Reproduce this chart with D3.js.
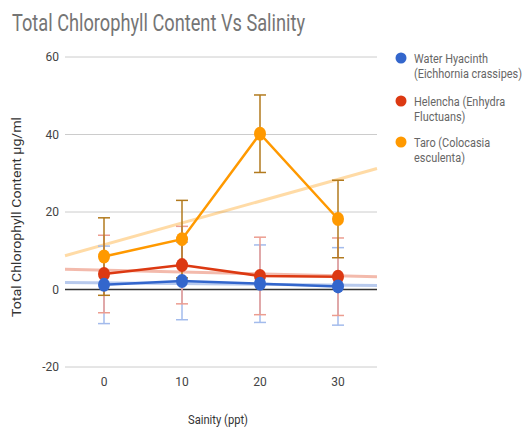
<!DOCTYPE html>
<html>
<head>
<meta charset="utf-8">
<script src="https://cdn.jsdelivr.net/npm/d3@7"></script>
<style>
  body { margin: 0; background: #fff; }
  svg { display: block; font-family: Roboto, "Noto Sans", sans-serif; }
</style>
</head>
<body>
<svg id="vis" width="532" height="430"></svg>
<script>
// salinity levels (ppt)
const salinity = [0, 10, 20, 30];
const yTicks = [-20, 0, 20, 40, 60];

// chlorophyll means, ug/ml
const hyacinth = [1.2, 2.2, 1.5, 0.8];
const helencha = [4.0, 6.3, 3.5, 3.3];
const taro = [8.5, 13.0, 40.2, 18.2];

// error bar half size
const hyacinthErr = [10, 10, 10, 10];
const helenchaErr = [10, 10, 10, 10];
const taroErr = [10, 10, 10, 10];

const seriesNames = [
  ["Water Hyacinth", "(Eichhornia crassipes)"],
  ["Helencha (Enhydra", "Fluctuans)"],
  ["Taro (Colocasia", "esculenta)"]
];

drawChart = () => {
  const svg = d3.select("#vis");

  const x = d3.scaleLinear().domain([-5, 35]).range([65, 377]);
  const y = d3.scaleLinear().domain([-20, 60]).range([367, 57]);

  const series = [
    {vals: hyacinth, err: hyacinthErr, color: "#3366cc", errColor: "#a3bbec"},
    {vals: helencha, err: helenchaErr, color: "#dc3912", errColor: "#ec9d90"},
    {vals: taro, err: taroErr, color: "#ff9900", errColor: "#b27a1e"}
  ];

  // title
  svg.append("text")
    .attr("x", 12).attr("y", 31)
    .attr("font-size", 24)
    .attr("fill", "#757575")
    .attr("textLength", 293)
    .attr("lengthAdjust", "spacingAndGlyphs")
    .text("Total Chlorophyll Content Vs Salinity");

  // gridlines
  svg.append("g").selectAll("line")
    .data(yTicks.filter(d => d !== 0))
    .join("line")
      .attr("x1", x.range()[0]).attr("x2", x.range()[1])
      .attr("y1", d => y(d)).attr("y2", d => y(d))
      .attr("stroke", "#cccccc").attr("stroke-width", 1);

  svg.append("g").selectAll("text")
    .data(yTicks)
    .join("text")
      .attr("x", 59).attr("y", d => y(d) + 4)
      .attr("text-anchor", "end")
      .attr("font-size", 12).attr("fill", "#444")
      .text(d => d);

  svg.append("g").selectAll("text")
    .data(salinity)
    .join("text")
      .attr("x", d => x(d)).attr("y", 386)
      .attr("text-anchor", "middle")
      .attr("font-size", 12).attr("fill", "#444")
      .text(d => d);

  // axis titles
  svg.append("text")
    .attr("transform", `translate(21, 217) rotate(-90)`)
    .attr("text-anchor", "middle")
    .attr("font-size", 12).attr("fill", "#333")
    .attr("textLength", 200)
    .attr("lengthAdjust", "spacingAndGlyphs")
    .text("Total Chlorophyll Content µg/ml");

  svg.append("text")
    .attr("x", 218).attr("y", 424)
    .attr("text-anchor", "middle")
    .attr("font-size", 12).attr("fill", "#333")
    .attr("textLength", 60)
    .attr("lengthAdjust", "spacingAndGlyphs")
    .text("Sainity (ppt)");

  // trendlines (least squares)
  series.forEach(s => {
    const mx = d3.mean(salinity), my = d3.mean(s.vals);
    const slope = d3.sum(salinity, (v, i) => (v - mx) * (s.vals[i] - my)) /
                  d3.sum(salinity, v => (v - mx) * (v - mx));
    const b = my - slope * mx;
    const [d0, d1] = x.domain();
    svg.append("line")
      .attr("x1", x(d0)).attr("y1", y(b + slope * d0))
      .attr("x2", x(d1)).attr("y2", y(b + slope * d1))
      .attr("stroke", s.color).attr("stroke-width", 3)
      .attr("stroke-opacity", 0.35);
  });

  // baseline
  svg.append("line")
    .attr("x1", x.range()[0]).attr("x2", x.range()[1])
    .attr("y1", y(0)).attr("y2", y(0))
    .attr("stroke", "#333").attr("stroke-width", 1.5);

  // error bars
  series.forEach(s => {
    const g = svg.append("g").attr("stroke", s.errColor).attr("stroke-width", 1.5);
    salinity.forEach((v, i) => {
      const lo = y(s.vals[i] - s.err[i]), hi = y(s.vals[i] + s.err[i]);
      g.append("line").attr("x1", x(v)).attr("x2", x(v)).attr("y1", lo).attr("y2", hi);
      g.append("line").attr("x1", x(v) - 6).attr("x2", x(v) + 6).attr("y1", lo).attr("y2", lo);
      g.append("line").attr("x1", x(v) - 6).attr("x2", x(v) + 6).attr("y1", hi).attr("y2", hi);
    });
  });

  // lines + points, taro first so hyacinth ends on top
  const line = d3.line().x((d, i) => x(salinity[i])).y(d => y(d));
  series.slice().reverse().forEach(s => {
    svg.append("path")
      .attr("d", line(s.vals))
      .attr("fill", "none")
      .attr("stroke", s.color).attr("stroke-width", 2.5);
    svg.append("g").selectAll("ellipse")
      .data(s.vals)
      .join("ellipse")
        .attr("cx", (d, i) => x(salinity[i]))
        .attr("cy", d => y(d))
        .attr("rx", 6).attr("ry", 7)
        .attr("fill", s.color);
  });

  // legend
  const leg = svg.append("g").selectAll("g")
    .data(series)
    .join("g")
      .attr("transform", (d, i) => `translate(401, ${[58, 101, 142][i]})`);
  leg.append("circle").attr("r", 5.5).attr("fill", d => d.color);
  leg.each(function(d, i) {
    const tg = d3.select(this).append("g")
      .attr("transform", "translate(13, 0) scale(0.84, 1)");
    seriesNames[i].forEach((t, j) => {
      tg.append("text")
        .attr("x", 0).attr("y", 5 + j * 15)
        .attr("font-size", 13).attr("fill", "#666")
        .text(t);
    });
  });
}

drawChart();
</script>
</body>
</html>
